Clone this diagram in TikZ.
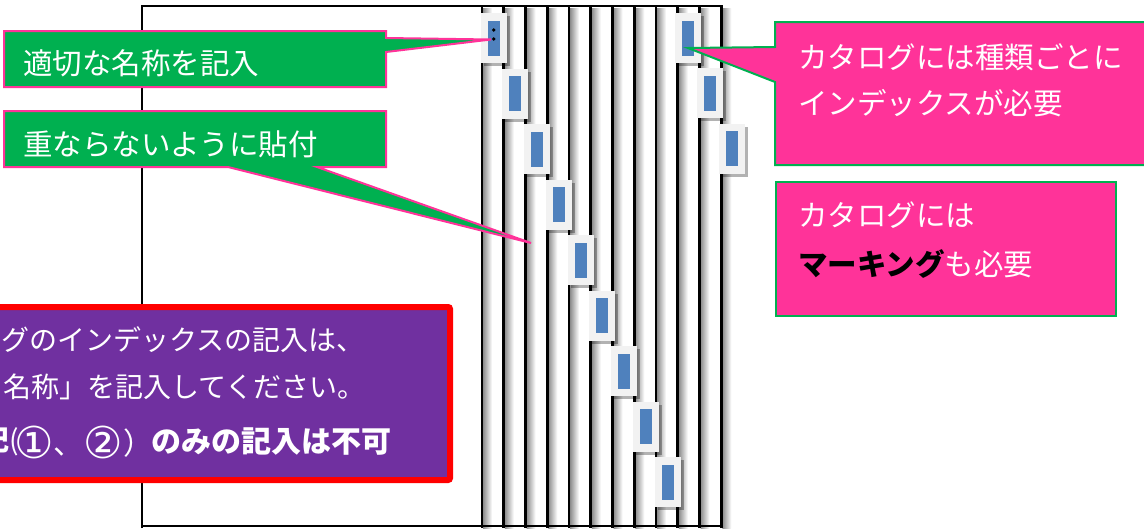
\documentclass[tikz,border=0pt]{standalone}
\usepackage{fontspec}
\setmainfont{Noto Sans CJK JP}
\newfontfamily\djfont{DejaVu Sans}
\usetikzlibrary{shadows}
\definecolor{cgreen}{HTML}{00B050}
\definecolor{cpink}{HTML}{FF3399}
\definecolor{cpurple}{HTML}{7030A0}
\definecolor{cblue}{HTML}{4F81BD}
\definecolor{ctab}{HTML}{F2F2F2}
\newcommand{\circnum}[1]{{\djfont\fontsize{44}{30}\selectfont\raisebox{-4pt}{#1}}}
\tikzset{
  pageline/.style={line width=2.6pt, black},
  frameline/.style={line width=2pt, black},
  tabbox/.style={rectangle, minimum width=26pt, minimum height=50pt, inner sep=0pt, fill=ctab,
    general shadow={fill=black, opacity=.3, shadow xshift=3pt, shadow yshift=-3pt}},
  bluebox/.style={rectangle, minimum width=12pt, minimum height=35pt, inner sep=0pt, fill=cblue},
  greencallout/.style={fill=cgreen, draw=cpink, line width=2pt},
  pinkcallout/.style={fill=cpink, draw=cgreen, line width=2pt},
  bigtxt/.style={anchor=west, inner sep=0pt, text=white, font=\fontsize{29.5}{29.5}\selectfont},
  purpletxt/.style={anchor=west, inner sep=0pt, text=white, font=\fontsize{28}{28}\selectfont},
}
\begin{document}
\begin{tikzpicture}[x=1pt,y=-1pt]
\useasboundingbox (0,0) rectangle (1144,528);
\fill[white] (0,0) rectangle (1144,528);
% page shadows and lines
\foreach \i in {0,...,11}{
  \pgfmathsetmacro\xx{482+21.75*\i}
  \shade[left color=black!45, right color=white] (\xx+1,8) rectangle (\xx+10,528);
}
\foreach \i in {0,...,11}{
  \pgfmathsetmacro\xx{482+21.75*\i}
  \draw[pageline] (\xx,5) -- (\xx,528);
}
% outer frame
\draw[frameline] (142,528) -- (142,6) -- (721,6);
\draw[frameline] (142,526) -- (721,526);
% tabs (left sequence)
\foreach \i in {0,...,8}{
  \node[tabbox] (t\i) at (493.5+21.75*\i, 38+55.5*\i) {};
  \node[bluebox] (b\i) at (t\i) {};
}
% tabs (right sequence)
\foreach \i in {0,1,2}{
  \node[tabbox] (r\i) at (688+22*\i, 38+55.3*\i) {};
  \node[bluebox] (rb\i) at (r\i) {};
}
% dots on first tab
\fill (493.7,30) circle (1.8);
\fill (493.7,39) circle (1.8);
\coordinate (tipA) at (491,39.5);
\coordinate (tipB) at (531,243);
\coordinate (tipC) at (688,48);
% callouts
\draw[greencallout] (4,31) -- (386,31) -- (386,38) -- (tipA) -- (386,52) -- (386,87) -- (4,87) -- cycle;
\draw[greencallout] (4,111) -- (386,111) -- (386,167) -- (317,167) -- (tipB) -- (228,167) -- (4,167) -- cycle;
\draw[pinkcallout] (775,22) -- (1150,22) -- (1150,165) -- (775,165) -- (775,82) -- (tipC) -- (775,47) -- cycle;
\draw[pinkcallout] (776,182) rectangle (1116,316);
\draw[line width=6pt, draw=red, fill=cpurple, rounded corners=2pt] (-10,307) rectangle (450,480);
% texts
\node[bigtxt] (n1) at (23,63) {適切な名称を記入};
\node[bigtxt] (n2) at (23,144) {重ならないように貼付};
\node[bigtxt] (n3a) at (798,57) {カタログには種類ごとに};
\node[bigtxt] (n3b) at (798,103) {インデックスが必要};
\node[bigtxt] (n4a) at (798,215) {カタログには};
\node[bigtxt] (n4b) at (798,264) {\textbf{\textcolor{black}{マーキング}}も必要};
\node[purpletxt] (p1) at (1,340) {グのインデックスの記入は、};
\node[purpletxt] (p2) at (3,387) {名称」を記入してください。};
\node[purpletxt] (p3a) at (-19,442) {\textbf{記}(};
\node[purpletxt, font=\fontsize{30}{30}\selectfont] (p3c) at (14,442) {\circnum{①}、\circnum{②}）};
\node[purpletxt, font=\bfseries\fontsize{30}{30}\selectfont] (p3b) at (151,442) {のみの記入は不可};
\end{tikzpicture}
\end{document}
